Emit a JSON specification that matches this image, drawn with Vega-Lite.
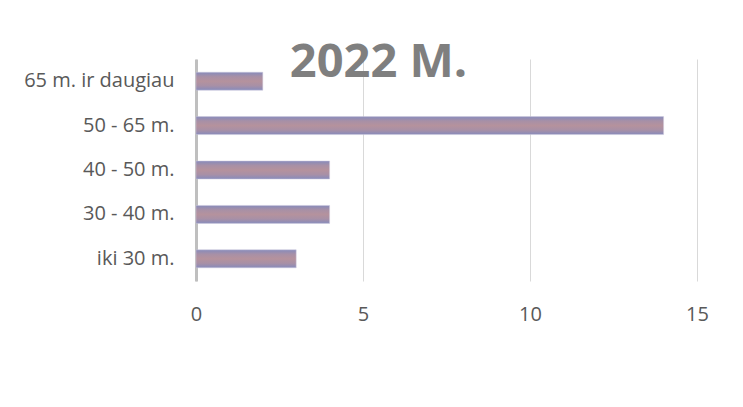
{
  "$schema": "https://vega.github.io/schema/vega-lite/v6.json",
  "width": 501,
  "height": 222,
  "autosize": {"type": "none"},
  "padding": {"left": 196, "top": 59, "right": 46, "bottom": 127},
  "background": "white",
  "title": {
    "text": "2022 M.",
    "font": "Open Sans",
    "fontSize": 47,
    "fontWeight": "bold",
    "color": "#7f7f7f",
    "anchor": "middle",
    "baseline": "alphabetic",
    "offset": 0,
    "dx": -68,
    "dy": 65
  },
  "data": {
    "values": [
      {"group": "65 m. ir daugiau", "count": 2},
      {"group": "50 - 65 m.", "count": 14},
      {"group": "40 - 50 m.", "count": 4},
      {"group": "30 - 40 m.", "count": 4},
      {"group": "iki 30 m.", "count": 3}
    ]
  },
  "mark": {
    "type": "bar",
    "color": {
      "gradient": "linear",
      "x1": 0, "y1": 0, "x2": 0, "y2": 1,
      "stops": [
        {"offset": 0, "color": "#878bbb"},
        {"offset": 0.25, "color": "#a890a6"},
        {"offset": 0.5, "color": "#b5929d"},
        {"offset": 0.75, "color": "#a890a6"},
        {"offset": 1, "color": "#878bbb"}
      ]
    },
    "stroke": "#d0cbdc",
    "strokeWidth": 0.5
  },
  "encoding": {
    "y": {
      "field": "group",
      "type": "nominal",
      "sort": null,
      "scale": {"paddingInner": 0.595, "paddingOuter": 0.2975},
      "axis": {
        "title": null,
        "ticks": false,
        "grid": false,
        "domain": true,
        "domainColor": "#bfbfbf",
        "domainWidth": 3,
        "labelFont": "Open Sans",
        "labelFontSize": 20,
        "labelColor": "#595959",
        "labelPadding": 22,
        "labelLimit": 300
      }
    },
    "x": {
      "field": "count",
      "type": "quantitative",
      "scale": {"domain": [0, 15], "nice": false},
      "axis": {
        "title": null,
        "values": [0, 5, 10, 15],
        "ticks": false,
        "domain": false,
        "grid": true,
        "gridColor": "#d9d9d9",
        "gridWidth": 1,
        "labelFlush": false,
        "labelFont": "Open Sans",
        "labelFontSize": 20,
        "labelColor": "#595959",
        "labelPadding": 23
      }
    }
  },
  "config": {"view": {"stroke": null}}
}
